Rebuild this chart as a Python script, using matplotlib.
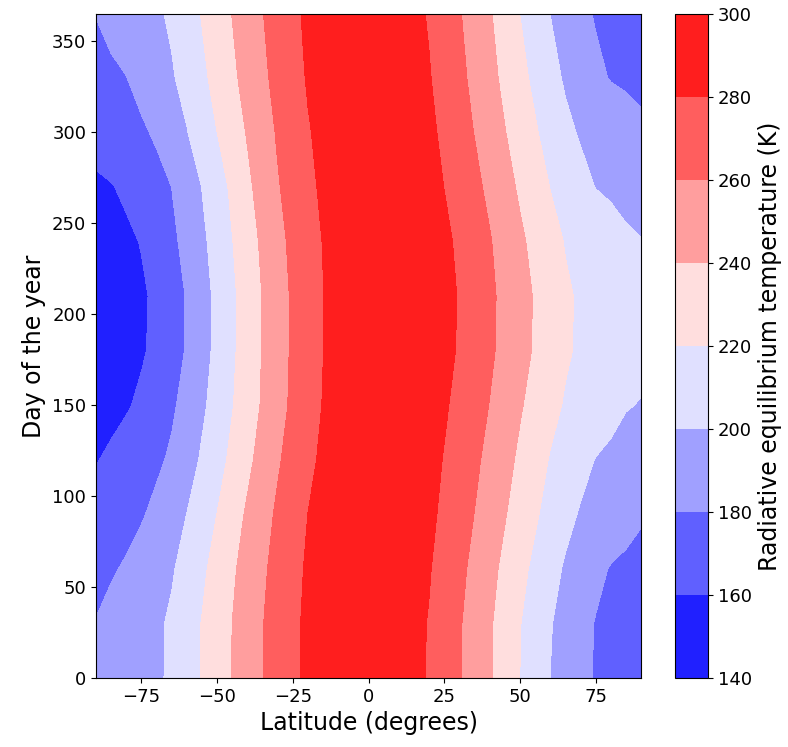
import numpy as np
import matplotlib
matplotlib.use("Agg")
import matplotlib.pyplot as plt

# latitude (degrees) and day of year of the grid
lats = [-90, -85, -80, -75, -70, -65, -60, -50, -40, -30, -20, -10, 0,
        10, 20, 30, 40, 50, 60, 65, 70, 75, 80, 85, 90]
days = [0, 30, 60, 90, 120, 150, 180, 210, 240, 270, 300, 330, 365]

# radiative equilibrium temperature (K), one row per day
temp_k = [
    [180.4, 184.6, 188.8, 193.0, 197.2, 202.9, 211.6, 230.3, 250.5, 268.3, 283.5, 292.6, 294.9,
     290.2, 278.5, 261.4, 241.8, 219.9, 199.9, 192.2, 184.5, 178.7, 175.7, 172.7, 169.7],
    [180.5, 184.6, 188.8, 193.0, 197.1, 202.6, 211.3, 230.0, 250.2, 268.4, 283.7, 292.7, 294.9,
     290.4, 279.0, 261.7, 242.2, 220.7, 201.2, 193.3, 185.6, 179.2, 176.0, 172.9, 169.7],
    [176.0, 178.4, 181.7, 187.2, 192.7, 198.2, 206.6, 226.6, 247.5, 266.3, 282.4, 292.0, 295.0,
     291.4, 281.2, 264.6, 245.7, 225.2, 206.4, 197.9, 191.0, 184.1, 179.0, 176.6, 174.1],
    [168.2, 171.6, 175.0, 178.4, 184.3, 192.2, 200.2, 220.2, 242.5, 262.9, 280.1, 290.7, 294.9,
     292.7, 284.0, 268.6, 250.8, 231.5, 213.4, 205.2, 198.5, 194.4, 190.3, 186.1, 182.0],
    [159.0, 163.3, 167.8, 172.3, 176.8, 182.7, 191.7, 212.9, 235.6, 257.8, 276.4, 289.1, 294.6,
     293.6, 286.2, 271.9, 255.0, 236.7, 218.8, 212.1, 205.4, 199.5, 196.7, 193.9, 191.2],
    [150.9, 154.5, 158.2, 163.4, 170.3, 177.2, 186.1, 207.4, 230.6, 253.2, 273.5, 287.7, 294.1,
     294.3, 288.3, 275.6, 259.5, 241.8, 225.2, 218.4, 214.0, 209.6, 205.3, 200.9, 199.3],
    [146.0, 150.0, 154.0, 157.9, 164.1, 172.5, 181.4, 204.6, 229.2, 252.3, 272.6, 287.0, 293.8,
     294.6, 289.6, 278.6, 263.1, 246.2, 230.0, 222.2, 217.6, 214.2, 210.9, 207.5, 204.2],
    [145.5, 149.5, 153.5, 157.5, 163.2, 172.0, 181.1, 204.3, 228.8, 252.3, 272.4, 286.8, 293.7,
     294.7, 289.9, 279.1, 263.6, 246.7, 230.4, 222.5, 217.8, 214.5, 211.2, 208.0, 204.7],
    [149.6, 153.2, 156.8, 160.8, 168.5, 176.2, 185.3, 207.3, 231.6, 254.6, 273.6, 287.4, 293.9,
     294.5, 289.1, 277.3, 261.3, 243.3, 226.3, 219.0, 214.9, 210.7, 206.6, 202.5, 200.6],
    [157.2, 159.1, 163.0, 168.6, 174.3, 180.1, 189.6, 211.1, 236.2, 258.5, 276.3, 288.9, 294.5,
     293.8, 286.7, 272.8, 256.0, 237.2, 219.6, 212.6, 205.6, 199.6, 197.4, 195.2, 193.0],
    [166.4, 170.1, 173.8, 177.4, 182.5, 190.8, 199.2, 220.0, 241.3, 261.8, 278.7, 290.2, 294.9,
     292.8, 284.0, 268.4, 250.4, 231.0, 212.8, 204.3, 198.2, 194.6, 191.0, 187.4, 183.8],
    [174.7, 177.2, 179.7, 185.6, 191.9, 198.1, 206.5, 225.8, 246.6, 265.6, 281.5, 291.7, 295.0,
     291.5, 281.1, 264.7, 245.7, 225.4, 206.3, 197.7, 190.6, 183.5, 179.1, 177.3, 175.5],
    [180.4, 184.6, 188.8, 193.0, 197.2, 202.9, 211.6, 230.3, 250.5, 268.3, 283.5, 292.6, 294.9,
     290.2, 278.5, 261.4, 241.8, 219.9, 199.9, 192.2, 184.5, 178.7, 175.7, 172.7, 169.7],
]

levels = [140, 160, 180, 200, 220, 240, 260, 280, 300]

fig = plt.figure(figsize=(7.88, 7.47), dpi=100)
ax = fig.add_axes([0.1218, 0.0924, 0.6917, 0.8889])
cax = fig.add_axes([0.8566, 0.0924, 0.0419, 0.8889])

cs = ax.contourf(lats, days, np.array(temp_k), levels=levels, cmap="bwr")
ax.set_xlim(-90, 90)
ax.set_ylim(0, 365)
ax.set_xticks([-75, -50, -25, 0, 25, 50, 75])
ax.set_yticks([0, 50, 100, 150, 200, 250, 300, 350])
ax.tick_params(labelsize=13)
ax.set_xlabel("Latitude (degrees)", fontsize=17)
ax.set_ylabel("Day of the year", fontsize=17)

cb = fig.colorbar(cs, cax=cax)
cb.set_ticks(levels)
cb.ax.tick_params(labelsize=13)
cb.set_label("Radiative equilibrium temperature (K)", fontsize=17)

fig.savefig("out.png", dpi=100)
